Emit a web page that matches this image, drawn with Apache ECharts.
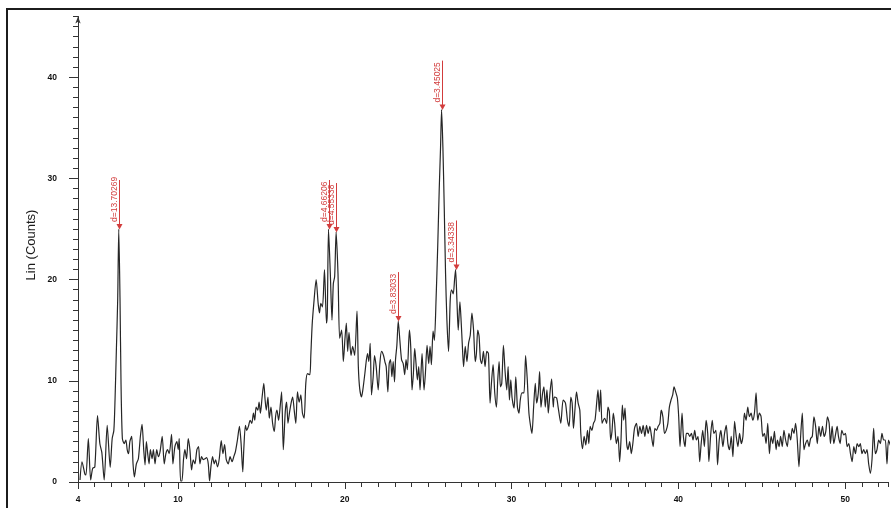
<!DOCTYPE html>
<html>
<head>
<meta charset="utf-8">
<script src="https://cdn.jsdelivr.net/npm/echarts@6/dist/echarts.min.js"></script>
<style>
  html, body { margin: 0; padding: 0; background: #fff; }
  #chart { width: 891px; height: 508px; }
</style>
</head>
<body>
<div id="chart"></div>
<script>
// Diffraction scan: 2-theta (degrees) and intensity (counts)
const twoTheta = [
  4.12,4.24,4.42,4.48,4.62,4.76,4.88,5.01,5.17,5.31,
  5.43,5.57,5.75,5.93,6.05,6.15,6.22,6.30,6.38,6.445,
  6.52,6.58,6.66,6.77,6.87,6.95,7.03,7.11,7.22,7.30,
  7.38,7.50,7.62,7.74,7.84,7.94,8.02,8.10,8.18,8.26,
  8.34,8.44,8.52,8.62,8.72,8.82,8.92,9.05,9.17,9.27,
  9.37,9.47,9.61,9.69,9.81,9.93,10.01,10.07,10.15,10.23,
  10.33,10.41,10.51,10.61,10.71,10.81,10.91,11.01,11.13,11.23,
  11.31,11.41,11.51,11.61,11.71,11.81,11.89,11.97,12.07,12.17,
  12.25,12.37,12.47,12.59,12.69,12.79,12.89,13.01,13.12,13.24,
  13.34,13.44,13.56,13.68,13.78,13.88,13.94,14.04,14.12,14.22,
  14.32,14.42,14.52,14.60,14.68,14.78,14.86,14.94,15.04,15.14,
  15.22,15.29,15.39,15.47,15.57,15.67,15.77,15.85,15.93,16.03,
  16.13,16.21,16.31,16.43,16.51,16.59,16.69,16.79,16.87,16.97,
  17.06,17.16,17.26,17.36,17.46,17.56,17.66,17.76,17.90,17.96,
  18.04,18.14,18.28,18.40,18.48,18.56,18.66,18.78,18.90,18.95,
  19.021,19.13,19.23,19.31,19.39,19.479,19.59,19.69,19.81,19.91,
  20.01,20.09,20.17,20.25,20.37,20.47,20.59,20.73,20.81,20.89,
  21.00,21.08,21.20,21.28,21.36,21.44,21.52,21.60,21.70,21.78,
  21.88,22.00,22.10,22.20,22.32,22.40,22.48,22.58,22.66,22.74,
  22.82,22.90,22.98,23.04,23.12,23.203,23.30,23.40,23.50,23.59,
  23.67,23.75,23.87,23.95,24.03,24.11,24.19,24.27,24.35,24.43,
  24.51,24.63,24.75,24.83,24.93,25.03,25.11,25.19,25.29,25.37,
  25.47,25.57,25.66,25.74,25.802,25.88,25.96,26.04,26.12,26.22,
  26.32,26.40,26.50,26.58,26.641,26.72,26.80,26.90,26.98,27.04,
  27.12,27.22,27.32,27.42,27.52,27.62,27.72,27.82,27.89,27.97,
  28.05,28.13,28.21,28.31,28.41,28.51,28.61,28.71,28.79,28.89,
  28.99,29.09,29.17,29.25,29.33,29.41,29.51,29.61,29.71,29.79,
  29.87,29.95,30.03,30.15,30.25,30.35,30.44,30.52,30.62,30.74,
  30.84,30.94,31.04,31.14,31.22,31.32,31.42,31.50,31.60,31.68,
  31.76,31.86,31.94,32.02,32.12,32.20,32.30,32.40,32.50,32.56,
  32.70,32.79,32.95,33.09,33.23,33.35,33.45,33.55,33.63,33.71,
  33.79,33.89,33.99,34.09,34.15,34.25,34.35,34.45,34.55,34.63,
  34.71,34.81,34.91,35.00,35.10,35.18,35.26,35.34,35.42,35.50,
  35.58,35.70,35.78,35.86,35.94,36.02,36.10,36.18,36.28,36.38,
  36.48,36.56,36.64,36.72,36.80,36.90,36.98,37.08,37.18,37.27,
  37.37,37.49,37.59,37.69,37.79,37.89,37.99,38.09,38.19,38.29,
  38.39,38.49,38.59,38.69,38.79,38.89,38.97,39.07,39.17,39.27,
  39.37,39.46,39.56,39.66,39.74,39.84,39.94,40.02,40.10,40.22,
  40.30,40.40,40.48,40.58,40.68,40.78,40.88,40.98,41.08,41.18,
  41.28,41.36,41.46,41.56,41.66,41.76,41.83,41.93,42.03,42.13,
  42.25,42.35,42.45,42.55,42.67,42.77,42.87,42.97,43.07,43.17,
  43.27,43.37,43.47,43.57,43.67,43.77,43.87,43.96,44.06,44.16,
  44.26,44.36,44.46,44.56,44.66,44.76,44.86,44.96,45.06,45.16,
  45.26,45.36,45.46,45.56,45.66,45.76,45.86,45.94,46.04,46.13,
  46.23,46.33,46.43,46.53,46.63,46.73,46.83,46.93,47.03,47.13,
  47.23,47.33,47.43,47.53,47.63,47.73,47.83,47.93,48.03,48.13,
  48.23,48.33,48.43,48.53,48.64,48.74,48.84,48.94,49.04,49.12,
  49.22,49.32,49.42,49.52,49.60,49.70,49.80,49.92,50.02,50.12,
  50.22,50.32,50.42,50.52,50.62,50.72,50.82,50.91,51.01,51.11,
  51.21,51.31,51.41,51.51,51.61,51.71,51.81,51.91,52.01,52.11,
  52.21,52.31,52.41,52.51,52.60,52.72,52.84,52.95
];
const counts = [
  0.2,2.0,0.75,0.7,4.3,0.2,1.35,1.5,6.55,3.8,
  2.9,0.2,5.6,1.45,4.3,5.1,8.1,13.0,18.0,25.0,
  18.0,9.7,4.3,3.8,4.15,3.2,2.8,4.0,4.5,1.8,
  0.5,1.8,2.3,4.5,5.7,3.2,1.7,4.0,2.8,1.8,
  3.2,2.3,3.2,1.8,3.2,2.5,3.0,4.5,1.8,2.8,
  3.2,2.8,4.7,1.8,3.5,4.0,3.2,4.3,0.1,0.1,
  2.3,3.2,2.3,4.3,3.2,1.2,2.2,1.8,3.2,3.5,
  1.8,2.5,2.2,2.3,2.4,1.8,0.1,1.5,2.5,1.8,
  2.2,1.5,2.3,4.1,2.8,3.7,2.2,1.8,2.5,2.0,
  2.5,3.0,4.15,5.5,3.8,1.0,3.2,5.6,5.1,5.5,
  6.1,5.8,6.8,6.1,7.4,7.1,7.9,6.8,8.4,9.75,
  8.1,7.1,8.4,6.3,7.4,5.8,5.0,6.5,7.1,6.1,
  7.6,8.9,3.2,7.0,7.9,5.8,6.95,7.9,8.4,7.0,
  5.8,8.9,7.9,8.6,6.8,6.3,9.75,10.7,10.6,12.5,
  15.5,17.65,20.0,17.65,16.7,17.65,17.3,21.0,15.7,16.7,
  25.0,20.6,16.0,19.6,20.3,24.7,20.6,14.2,15.0,11.9,
  14.2,15.7,12.9,14.8,12.5,13.4,12.5,16.9,11.4,9.25,
  8.4,9.1,10.7,11.9,12.7,11.9,13.7,8.6,10.4,12.5,
  11.4,9.1,11.7,12.9,12.5,11.9,11.4,8.9,11.7,12.1,
  10.4,11.9,9.9,12.1,13.5,15.9,14.0,12.1,11.7,10.6,
  12.1,11.1,15.0,13.4,9.1,10.7,13.2,11.7,10.1,11.4,
  9.1,12.7,9.1,10.7,13.5,11.7,13.4,11.6,14.9,14.0,
  18.0,23.3,28.9,33.1,36.8,33.1,27.2,20.6,16.0,12.9,
  18.0,19.0,18.6,20.0,21.0,18.0,15.0,17.8,15.7,13.7,
  11.4,13.4,11.9,13.7,14.5,16.7,15.0,11.9,12.7,15.0,
  14.4,12.1,11.7,12.9,11.4,12.9,12.7,7.8,9.75,11.6,
  8.8,7.4,10.1,11.9,9.4,9.75,13.5,10.9,9.1,11.4,
  8.1,10.1,8.3,7.3,10.4,7.4,6.8,8.1,8.8,8.8,
  12.5,10.1,6.8,5.5,4.8,7.4,9.75,7.8,8.8,10.9,
  7.4,8.8,9.4,7.4,9.1,6.8,8.8,10.2,7.4,8.4,
  8.3,7.4,5.8,8.1,7.8,6.1,5.5,8.4,7.8,5.3,
  6.95,8.9,7.8,7.1,4.8,3.3,4.5,3.65,5.1,3.8,
  5.5,5.1,5.8,6.1,7.8,9.1,6.95,9.1,5.8,6.1,
  6.3,5.8,7.4,6.95,4.15,5.0,6.8,5.8,3.8,4.5,
  2.0,4.15,7.6,6.1,7.3,3.8,3.2,4.0,2.8,3.8,
  5.3,5.8,4.5,5.5,4.8,5.6,4.5,5.6,4.8,5.5,
  4.5,3.5,5.3,5.1,5.5,5.8,7.1,6.45,4.8,5.1,
  5.8,7.4,8.1,8.6,9.4,8.9,8.3,6.45,3.5,6.8,
  4.5,3.5,4.8,4.8,4.5,4.8,4.15,5.1,4.15,4.5,
  2.0,3.65,5.1,3.5,6.1,4.8,2.0,4.5,6.1,4.8,
  5.1,1.7,4.15,5.1,3.5,4.8,5.6,3.8,3.2,4.5,
  2.5,6.0,4.5,3.5,4.8,3.8,4.5,6.8,6.1,7.4,
  6.45,6.8,6.1,6.8,8.8,6.1,6.8,6.45,4.5,4.8,
  3.8,5.8,2.8,4.5,3.8,5.0,3.2,4.15,3.5,4.5,
  3.5,5.1,4.15,3.5,4.8,4.15,5.3,4.8,5.8,4.15,
  1.5,4.5,6.8,3.2,3.8,4.15,3.5,4.3,4.5,6.45,
  5.5,3.8,5.5,4.5,5.5,4.5,5.0,6.45,5.8,3.8,
  5.5,3.8,4.65,5.5,4.5,3.8,5.1,4.65,4.8,3.5,
  3.8,2.8,2.0,3.5,2.8,3.8,3.5,3.8,2.8,3.2,
  2.8,3.2,1.8,0.85,2.2,5.3,2.8,3.2,4.15,3.8,
  4.8,4.15,4.15,1.8,4.15,3.6,2.9,3.4
];

// Indexed reflections: d-spacing (Å) and peak intensity (counts)
const peakD = [13.70269, 4.66206, 4.55338, 3.83033, 3.45025, 3.34338];
const peakCounts = [25.0, 25.0, 24.7, 15.9, 36.8, 21.0];

// Axis tick labels
const xTickLabels = [4, 10, 20, 30, 40, 50];
const yTickLabels = [0, 10, 20, 30, 40];

const WAVELENGTH = 1.5406; // Cu K-alpha1, Å
const RED = '#d23c3c';
const FONT = '"Liberation Sans", Arial, sans-serif';

// Bragg's law: 2θ position of a reflection with spacing d
function braggTwoTheta(d) {
  return 2 * Math.asin(WAVELENGTH / (2 * d)) * 180 / Math.PI;
}

const scan = twoTheta.map((t, i) => [t, counts[i]]);
const peaks = peakD.map((d, i) => [braggTwoTheta(d), peakCounts[i]]);

// Visible window of the scan (the plot runs to the right edge of the page)
const X_MIN = 4, X_MAX = 52.57, Y_MIN = 0, Y_MAX = 46;

const tickLabelStyle = {
  fontFamily: FONT, fontSize: 8.5, fontWeight: 'bold', color: '#111'
};
const axisLineStyle = { color: '#333', width: 1 };

const chart = echarts.init(document.getElementById('chart'), null, { renderer: 'canvas' });

chart.setOption({
  animation: false,
  backgroundColor: '#fff',
  grid: {
    left: 78,
    right: 0,
    top: 16.5,
    bottom: 26,
    containLabel: false
  },
  graphic: [
    {
      type: 'rect', z: -1,
      shape: { x: 7, y: 9, width: 900, height: 520 },
      style: { fill: 'none', stroke: '#1c1c1c', lineWidth: 2 }
    },
    {
      type: 'text',
      x: 31, y: 245, rotation: Math.PI / 2,
      style: {
        text: 'Lin (Counts)', x: 0, y: 0,
        align: 'center', verticalAlign: 'middle',
        font: '13px ' + FONT, fill: '#1a1a1a'
      }
    }
  ],
  xAxis: [
    {
      type: 'value', min: X_MIN, max: X_MAX, interval: 1,
      axisLine: { lineStyle: axisLineStyle },
      axisTick: { length: 5, lineStyle: { color: '#333' } },
      axisLabel: Object.assign({
        margin: 13,
        formatter: v => (xTickLabels.indexOf(v) >= 0 ? String(v) : '')
      }, tickLabelStyle),
      splitLine: { show: false }
    },
    {
      type: 'value', min: X_MIN, max: X_MAX, position: 'bottom',
      axisLine: { show: false },
      axisTick: { customValues: xTickLabels, length: 7, lineStyle: { color: '#333' } },
      axisLabel: { show: false },
      splitLine: { show: false }
    }
  ],
  yAxis: [
    {
      type: 'value', min: Y_MIN, max: Y_MAX, interval: 1,
      axisLine: {
        show: true, lineStyle: axisLineStyle,
        symbol: ['none', 'arrow'], symbolSize: [4, 7]
      },
      axisTick: { length: 5, lineStyle: { color: '#333' } },
      axisLabel: { show: false },
      splitLine: { show: false }
    },
    {
      type: 'value', min: Y_MIN, max: Y_MAX, position: 'left',
      axisLine: { show: false },
      axisTick: { customValues: yTickLabels, length: 9, lineStyle: { color: '#333' } },
      axisLabel: Object.assign({ customValues: yTickLabels, margin: 21 }, tickLabelStyle),
      splitLine: { show: false }
    }
  ],
  series: [
    {
      type: 'line',
      xAxisIndex: 0, yAxisIndex: 0,
      data: scan,
      showSymbol: false,
      smooth: 0.25,
      lineStyle: { color: '#262626', width: 1.2 },
      z: 3
    },
    {
      type: 'custom',
      xAxisIndex: 0, yAxisIndex: 0,
      data: peaks,
      z: 4,
      renderItem: function (params, api) {
        const p = api.coord([api.value(0), api.value(1)]);
        const x = Math.round(p[0]) + 0.5;
        const y = p[1];
        const label = 'd=' + peakD[params.dataIndex].toFixed(5);
        return {
          type: 'group',
          children: [
            {
              type: 'line',
              shape: { x1: x, y1: y - 3, x2: x, y2: y - 49 },
              style: { stroke: RED, lineWidth: 1 }
            },
            {
              type: 'polygon',
              shape: { points: [[x - 3, y - 5], [x + 3, y - 5], [x, y + 0.5]] },
              style: { fill: RED }
            },
            {
              type: 'text',
              x: x - 0.5, y: y - 7, rotation: Math.PI / 2,
              style: {
                text: label, x: 0, y: 0,
                align: 'left', verticalAlign: 'bottom',
                font: '8.5px ' + FONT, fill: RED
              }
            }
          ]
        };
      }
    }
  ]
});
</script>
</body>
</html>
